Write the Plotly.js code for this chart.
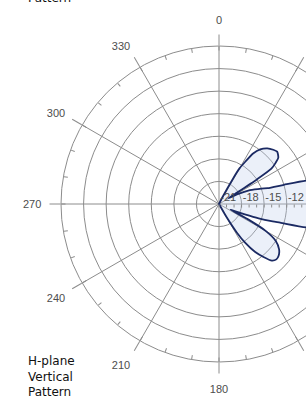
<!DOCTYPE html>
<html>
<head>
<meta charset="utf-8">
<script src="https://cdn.plot.ly/plotly-3.0.1.min.js"></script>
<style>
html,body{margin:0;padding:0;background:#fff;overflow:hidden;width:306px;height:398px;}
#chart{width:440px;height:420px;}
</style>
</head>
<body>
<div id="chart"></div>
<script>
// Pattern data (degrees, dB)
var patternTheta = [0, 20, 27, 29, 30, 32, 34, 37, 41, 45, 48, 52, 54, 56, 57, 58, 59, 62, 66, 70, 72, 73.5, 75, 78, 82, 86, 90, 94, 98, 102, 105, 107, 108, 110, 112, 114, 116, 118, 120, 123, 127, 131, 134, 137, 140, 143, 146, 148, 150, 152, 360];
var patternDb = [-21, -21, -20, -17, -15.5, -14.3, -12.9, -11.9, -11.2, -10.8, -10.6, -11.0, -11.7, -12.6, -15, -18.5, -19.5, -18.3, -16.5, -15, -14.2, -12, -9, -5.5, -2.5, -0.6, 0, -0.6, -2.5, -5.5, -9, -12.5, -13.5, -15.4, -17.3, -18.5, -19.3, -16.5, -13.8, -12, -11, -10.5, -10.4, -10.7, -11.8, -13, -14.8, -16.5, -19, -21, -21];

var angleTicks = [0, 30, 60, 90, 120, 150, 180, 210, 240, 270, 300, 330];
var angleLabels = ['0', '30', '60', '90', '120', '150', '180', '210', '240', '270', '300', '330'];
var radialTicks = [-21, -18, -15, -12, -9, -6, -3];
var radialLabels = ['-21', '-18', '-15', '-12', '-9', '-6', '-3'];
var radialRange = [-21, 0];

var W = 440, H = 420;
var cx = 219, cy = 204, R = 158;
var dom = {x: [(cx - R) / W, (cx + R) / W], y: [(H - cy - R) / H, (H - cy + R) / H]};
var grid = '#8c8c8c';
var labelColor = '#4d4d4d';
var pad = '\u00a0\u00a0\u00a0\u00a0\u00a0\u00a0';

var traces = [
  {
    type: 'scatterpolar', subplot: 'polar',
    r: patternDb, theta: patternTheta, mode: 'lines',
    line: {color: '#1b2a63', width: 1.8, shape: 'spline', smoothing: 0.6},
    fill: 'toself', fillcolor: 'rgba(190,205,235,0.3)',
    hoverinfo: 'skip'
  },
  {type: 'scatterpolar', subplot: 'polar2', r: [], theta: [], mode: 'lines', hoverinfo: 'skip'},
  {type: 'scatterpolar', subplot: 'polar3', r: [], theta: [], mode: 'lines', hoverinfo: 'skip'}
];

var layout = {
  width: W, height: H,
  margin: {l: 0, r: 0, t: 0, b: 0},
  paper_bgcolor: '#ffffff',
  showlegend: false,
  font: {family: 'Liberation Sans, Arial, sans-serif', color: labelColor},
  polar: {
    domain: dom,
    bgcolor: '#ffffff',
    angularaxis: {
      rotation: 90, direction: 'clockwise',
      color: labelColor,
      tickmode: 'array', tickvals: angleTicks, ticktext: angleLabels,
      showgrid: true, gridcolor: grid, gridwidth: 1,
      showline: true, linecolor: grid, linewidth: 1,
      ticks: 'outside', ticklen: 17, tickcolor: 'rgba(0,0,0,0)', tickwidth: 1,
      tickfont: {size: 11, color: labelColor}
    },
    radialaxis: {
      range: radialRange, angle: 0, side: 'counterclockwise',
      color: labelColor, tickangle: 0,
      tickmode: 'array', tickvals: radialTicks,
      ticktext: radialLabels.map(function (s) { return pad + s; }),
      ticks: '', showline: false,
      showgrid: true, gridcolor: grid, gridwidth: 1,
      tickfont: {size: 11, color: labelColor}
    }
  },
  polar2: {
    domain: dom,
    bgcolor: 'rgba(0,0,0,0)',
    angularaxis: {
      rotation: 90, direction: 'clockwise',
      tickmode: 'linear', tick0: 0, dtick: 10,
      ticks: 'inside', ticklen: 4, tickcolor: grid, tickwidth: 1,
      showticklabels: false, showgrid: false, showline: false
    },
    radialaxis: {
      range: radialRange, angle: 0, side: 'clockwise',
      tickmode: 'linear', tick0: -21, dtick: 1,
      ticks: 'outside', ticklen: 3, tickcolor: grid, tickwidth: 1,
      showticklabels: false, showgrid: false, showline: false
    }
  },
  polar3: {
    domain: dom,
    bgcolor: 'rgba(0,0,0,0)',
    angularaxis: {
      rotation: 90, direction: 'clockwise',
      tickmode: 'array', tickvals: angleTicks,
      ticks: 'outside', ticklen: 11, tickcolor: grid, tickwidth: 1,
      showticklabels: false, showgrid: false, showline: false
    },
    radialaxis: {
      range: radialRange, visible: false
    }
  },
  annotations: [
    {
      text: 'H-plane<br>Vertical<br>Pattern', xref: 'paper', yref: 'paper',
      x: 26 / W, y: (H - 376) / H, xanchor: 'left', yanchor: 'middle',
      align: 'left', showarrow: false,
      font: {family: 'DejaVu Sans, Verdana, sans-serif', size: 12, color: '#111'}
    },
    {
      text: 'Pattern', xref: 'paper', yref: 'paper',
      x: 26 / W, y: (H - 7) / H, xanchor: 'left', yanchor: 'bottom',
      align: 'left', showarrow: false,
      font: {family: 'DejaVu Sans, Verdana, sans-serif', size: 12, color: '#111'}
    }
  ]
};

Plotly.newPlot('chart', traces, layout, {displayModeBar: false, staticPlot: true});
</script>
</body>
</html>
